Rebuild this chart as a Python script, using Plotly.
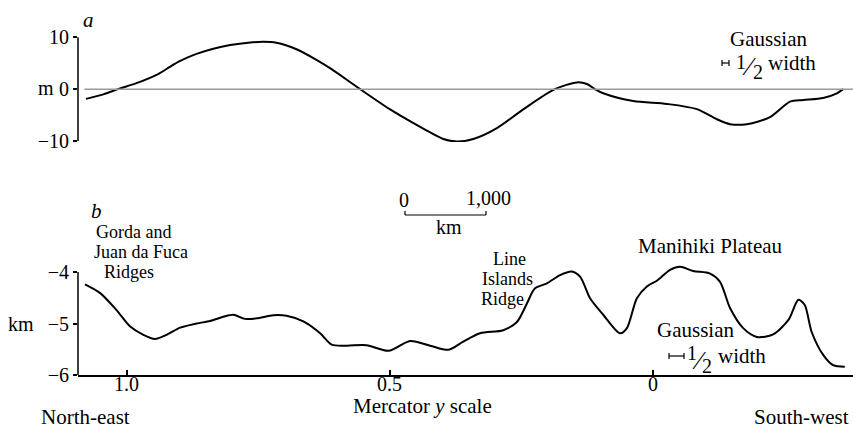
import plotly.graph_objects as go

# ---------------- data ----------------
# Panel a: anomaly (m) vs Mercator y
a_merc = [1.077, 1.044, 1.016, 0.981, 0.940, 0.917, 0.898, 0.867, 0.835, 0.803, 0.765,
          0.740, 0.715, 0.677, 0.639, 0.611, 0.556, 0.499, 0.436, 0.398, 0.372, 0.341,
          0.296, 0.246, 0.186, 0.144, 0.125, 0.110, 0.094, 0.037, -0.027, -0.084,
          -0.122, -0.147, -0.179, -0.223, -0.261, -0.286, -0.324, -0.350, -0.362]
a_m = [-1.87, -1.0, 0.0, 1.15, 2.9, 4.35, 5.45, 6.8, 7.8, 8.5, 9.0,
       9.15, 8.95, 7.7, 5.65, 3.9, 0.0, -3.9, -7.6, -9.6, -10.1, -9.6,
       -7.5, -3.9, 0.0, 1.3, 1.0, 0.0, -0.8, -2.3, -2.85, -3.85,
       -5.8, -6.75, -6.75, -5.4, -2.4, -2.1, -1.7, -0.8, 0.0]

# Panel b: depth (km) vs Mercator y
b_merc = [1.079, 1.050, 1.019, 0.993, 0.968, 0.946, 0.924, 0.898, 0.867, 0.841, 0.816,
          0.797, 0.775, 0.753, 0.721, 0.696, 0.664, 0.632, 0.610, 0.582, 0.544, 0.502,
          0.461, 0.423, 0.388, 0.360, 0.328, 0.284, 0.258, 0.239, 0.224, 0.201, 0.176,
          0.154, 0.138, 0.119, 0.094, 0.062, 0.049, 0.030, 0.011, -0.008, -0.033,
          -0.052, -0.077, -0.109, -0.128, -0.147, -0.172, -0.198, -0.229, -0.258,
          -0.277, -0.289, -0.302, -0.324, -0.343, -0.365]
b_km = [-4.24, -4.41, -4.74, -5.06, -5.22, -5.30, -5.22, -5.08, -5.00, -4.95, -4.87,
        -4.83, -4.91, -4.90, -4.84, -4.85, -4.96, -5.19, -5.41, -5.43, -5.42, -5.53,
        -5.34, -5.43, -5.51, -5.35, -5.19, -5.13, -4.97, -4.61, -4.32, -4.22, -4.06,
        -3.99, -4.09, -4.51, -4.83, -5.19, -5.09, -4.51, -4.28, -4.17, -3.96,
        -3.90, -3.98, -4.03, -4.19, -4.70, -5.09, -5.26, -5.21, -4.93,
        -4.54, -4.64, -5.16, -5.61, -5.81, -5.84]

x_tickvals = [1.0, 0.5, 0.0]
x_ticktext = ["1.0", "0.5", "0"]
a_tickvals = [10, 0, -10]
a_ticktext = ["10", "0", "\u221210"]
b_tickvals = [-4, -5, -6]
b_ticktext = ["\u22124", "\u22125", "\u22126"]

W, H = 853, 431
L = 78
PW = W - L
FONT = "Liberation Serif, Times New Roman, serif"
FS = 21
TFS = 20
SFS = 18  # stacked labels


def px(x):
    return (x - L) / PW


def py(y):
    return 1 - y / H


fig = go.Figure()
fig.add_trace(go.Scatter(x=a_merc, y=a_m, mode="lines", xaxis="x", yaxis="y",
                         line=dict(color="black", width=2, shape="spline", smoothing=0.8),
                         showlegend=False, hoverinfo="skip"))
fig.add_trace(go.Scatter(x=b_merc, y=b_km, mode="lines", xaxis="x2", yaxis="y2",
                         line=dict(color="black", width=2, shape="spline", smoothing=0.8),
                         showlegend=False, hoverinfo="skip"))

xrange = [1.0922, -0.3807]

fig.update_layout(
    width=W, height=H,
    margin=dict(l=L, r=0, t=0, b=0),
    paper_bgcolor="white", plot_bgcolor="white",
    font=dict(family=FONT, size=FS, color="black"),
    xaxis=dict(domain=[0, 1], range=xrange, visible=False, anchor="y"),
    yaxis=dict(domain=[0.6704, 0.9159], range=[-10.2, 10.2], anchor="x",
               tickvals=a_tickvals, ticktext=a_ticktext, ticks="outside", ticklen=4,
               tickwidth=1.5, tickcolor="black", showline=False, showgrid=False,
               zeroline=False, automargin=False,
               tickfont=dict(family=FONT, size=TFS, color="black")),
    xaxis2=dict(domain=[0, 1], range=xrange, anchor="y2",
                tickvals=x_tickvals, showticklabels=False, ticks="inside", ticklen=5,
                tickwidth=1.5, tickcolor="black", showline=True, linecolor="black",
                linewidth=1.5, showgrid=False, zeroline=False, automargin=False),
    yaxis2=dict(domain=[0.1299, 0.3928], range=[-6, -3.8], anchor="x2",
                tickvals=b_tickvals, ticktext=b_ticktext, ticks="outside", ticklen=4,
                tickwidth=1.5, tickcolor="black", showline=False, showgrid=False,
                zeroline=False, automargin=False,
                tickfont=dict(family=FONT, size=TFS, color="black")),
)

shapes = []
# bracket-style y axis lines
shapes.append(dict(type="line", xref="paper", yref="y", x0=0, x1=0, y0=-10, y1=10,
                   line=dict(color="black", width=1.5)))
shapes.append(dict(type="line", xref="paper", yref="y2", x0=0, x1=0, y0=-6, y1=-4,
                   line=dict(color="black", width=1.5)))
# zero line in panel a
shapes.append(dict(type="line", xref="x", yref="y", x0=1.08, x1=xrange[1], y0=0, y1=0,
                   line=dict(color="#9a9a9a", width=1.5)))
# scale bar 0 - 1,000 km
sb0, sb1, sby = px(405), px(486), py(215)
shapes.append(dict(type="line", xref="paper", yref="paper", x0=sb0, x1=sb1, y0=sby, y1=sby,
                   line=dict(color="black", width=1.2)))
for xx in (sb0, sb1):
    shapes.append(dict(type="line", xref="paper", yref="paper", x0=xx, x1=xx, y0=sby,
                       y1=py(211), line=dict(color="black", width=1.2)))
# Gaussian half-width markers
for (xa, xb, yy) in ((722, 729, 63), (669, 684, 356)):
    shapes.append(dict(type="line", xref="paper", yref="paper", x0=px(xa), x1=px(xb),
                       y0=py(yy), y1=py(yy), line=dict(color="black", width=1.2)))
    for xx in (xa, xb):
        shapes.append(dict(type="line", xref="paper", yref="paper", x0=px(xx), x1=px(xx),
                           y0=py(yy - 3), y1=py(yy + 3), line=dict(color="black", width=1.2)))
fig.update_layout(shapes=shapes)

ann = []


def text(t, x, y, xanchor="center", size=FS, yanchor="middle"):
    ann.append(dict(text=t, x=px(x), y=py(y), xref="paper", yref="paper",
                    xanchor=xanchor, yanchor=yanchor, showarrow=False, borderpad=0,
                    font=dict(family=FONT, size=size, color="black")))


# x tick labels placed just under the axis line
for v, t in zip(x_tickvals, x_ticktext):
    ann.append(dict(text=t, x=v, y=py(384), xref="x2", yref="paper",
                    xanchor="center", yanchor="middle", showarrow=False, borderpad=0,
                    font=dict(family=FONT, size=TFS, color="black")))

text("<i>a</i>", 88, 20)
text("m", 46, 88, size=TFS)
text("<i>b</i>", 96, 211)
text("km", 21, 324, size=TFS)
text("Gorda and", 95, 232, "left", size=SFS)
text("Juan da Fuca", 93, 252, "left", size=SFS)
text("Ridges", 103, 272, "left", size=SFS)
text("0", 404, 200, size=TFS)
text("1,000", 488, 198, size=TFS)
text("km", 449, 227, size=TFS)
text("Line", 510, 259, size=SFS)
text("Islands", 507, 279, size=SFS)
text("Ridge", 502, 299, size=SFS)
text("Manihiki Plateau", 710, 246)
# top Gaussian note (1/2 built from separate glyphs)
text("Gaussian", 768, 39)
text("1", 740.5, 62, size=20)
text("\u2044", 749, 66, size=26)
text("2", 757.5, 72, size=20)
text("width", 792, 63)
# bottom Gaussian note
text("Gaussian", 695, 330)
text("1", 691.5, 353, size=20)
text("\u2044", 699, 360, size=26)
text("2", 706.5, 366, size=20)
text("width", 742, 356)
# axis captions
text("Mercator <i>y</i> scale", 422, 406)
text("North-east", 40, 430, "left", yanchor="bottom")
text("South-west", 850, 430, "right", yanchor="bottom")

fig.update_layout(annotations=ann)

fig.write_html("out.html", config={"displayModeBar": False},
               post_script="document.body.style.margin='0';")
